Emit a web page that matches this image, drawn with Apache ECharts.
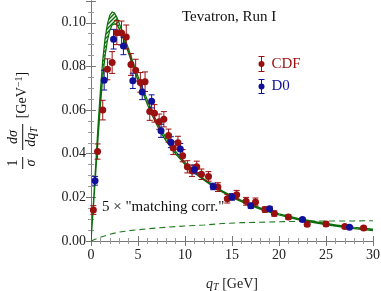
<!DOCTYPE html>
<html>
<head>
<meta charset="utf-8">
<script src="https://cdn.jsdelivr.net/npm/echarts@6/dist/echarts.min.js"></script>
<style>
html, body { margin: 0; padding: 0; background: #fff; }
#chart { width: 381px; height: 291px; }
</style>
</head>
<body>
<div id="chart"></div>
<script>
// CDF data: qT, value, error
var cdfX = [0.25, 0.7, 1.25, 1.75, 2.25, 2.75, 3.25, 3.75, 4.25, 4.75, 5.25, 5.75, 6.25, 6.75, 7.25, 7.75, 8.25, 8.75, 9.25, 9.75, 10.25, 10.75, 11.25, 11.75, 12.5, 13.5, 14.5, 15.5, 16.5, 17.5, 18.5, 19.5, 21, 23, 25, 27, 29];
var cdfY = [0.0142, 0.0410, 0.0600, 0.0787, 0.0818, 0.0955, 0.0953, 0.0935, 0.0809, 0.0783, 0.0727, 0.0730, 0.0593, 0.0585, 0.0547, 0.0558, 0.0483, 0.0426, 0.0450, 0.0391, 0.0340, 0.0322, 0.0340, 0.0306, 0.0296, 0.0247, 0.0194, 0.0212, 0.0182, 0.0179, 0.0144, 0.0126, 0.0110, 0.0077, 0.0078, 0.0066, 0.0060];
var cdfErr = [0.002, 0.0035, 0.0045, 0.0048, 0.005, 0.0055, 0.0055, 0.0055, 0.005, 0.005, 0.0045, 0.0045, 0.004, 0.004, 0.0035, 0.0035, 0.003, 0.003, 0.003, 0.0028, 0.0028, 0.0026, 0.0026, 0.0024, 0.0022, 0.002, 0.002, 0.002, 0.0018, 0.0018, 0.0012, 0.0012, 0.001, 0.001, 0.001, 0.0008, 0.0008];

// D0 data
var d0X = [0.43, 1.4, 2.4, 3.45, 4.45, 5.45, 6.45, 7.45, 8.5, 9.5, 11, 13, 15, 17, 19, 22.5, 27.5];
var d0Y = [0.0276, 0.0737, 0.0925, 0.0894, 0.0734, 0.0683, 0.0640, 0.0505, 0.0453, 0.0422, 0.0328, 0.0250, 0.0202, 0.0162, 0.0148, 0.0098, 0.0063];
var d0Err = [0.002, 0.0045, 0.0045, 0.004, 0.0035, 0.0035, 0.003, 0.003, 0.0025, 0.0025, 0.002, 0.0015, 0.0015, 0.0012, 0.001, 0.0008, 0.0006];

// theory band
var curveX = [0, 0.25, 0.5, 0.75, 1, 1.25, 1.5, 1.75, 2, 2.25, 2.5, 2.75, 3, 3.5, 4, 4.5, 5, 5.5, 6, 6.5, 7, 7.5, 8, 8.5, 9, 9.5, 10, 11, 12, 13, 14, 15, 16, 17, 18, 19, 20, 22, 24, 26, 28, 30];
var curveHigh = [0, 0.017, 0.035, 0.053, 0.069, 0.083, 0.093, 0.0995, 0.1035, 0.105, 0.1045, 0.1025, 0.0998, 0.094, 0.088, 0.0815, 0.0755, 0.070, 0.0645, 0.0594, 0.0548, 0.0508, 0.0472, 0.0441, 0.0411, 0.0385, 0.036, 0.0319, 0.0285, 0.0255, 0.0229, 0.0206, 0.0186, 0.0168, 0.0152, 0.0138, 0.0125, 0.0104, 0.0088, 0.0074, 0.0063, 0.0054];
var curveLow = [0, 0.015, 0.031, 0.047, 0.062, 0.075, 0.085, 0.092, 0.0965, 0.099, 0.0995, 0.0992, 0.0972, 0.092, 0.086, 0.0795, 0.0735, 0.068, 0.0625, 0.0576, 0.0532, 0.0492, 0.0458, 0.0429, 0.0399, 0.0375, 0.035, 0.0311, 0.0279, 0.0249, 0.0223, 0.020, 0.018, 0.0162, 0.0146, 0.0132, 0.0119, 0.0098, 0.0082, 0.0068, 0.0057, 0.0048];

// 5 x matching correction (dashed)
var corrX = [0, 1, 2, 3, 4, 6, 8, 10, 12, 14, 16, 18, 20, 22, 24, 26, 28, 30];
var corrY = [0, 0.0017, 0.0031, 0.0041, 0.0047, 0.0056, 0.0063, 0.0069, 0.0073, 0.0080, 0.0084, 0.0086, 0.0088, 0.0090, 0.0091, 0.0092, 0.0092, 0.0093];

var xTicks = [0, 5, 10, 15, 20, 25, 30];
var yTicks = [0, 0.02, 0.04, 0.06, 0.08, 0.10];

var red = '#9a1010';
var blue = '#10109a';
var green = '#0a6e0a';
var serif = 'Liberation Serif';

function zip(xs, ys, es) {
	return xs.map(function(x, i) {
		return es ? [x, ys[i], es[i]] : [x, ys[i]];
	});
}

// hatch pattern for the band
var hatch = document.createElement('canvas');
hatch.width = 4;
hatch.height = 4;
var hc = hatch.getContext('2d');
hc.fillStyle = '#e8f2e8';
hc.fillRect(0, 0, 4, 4);
hc.strokeStyle = green;
hc.lineWidth = 1.3;
hc.beginPath();
hc.moveTo(-1, 5); hc.lineTo(5, -1);
hc.moveTo(-1, 1); hc.lineTo(1, -1);
hc.moveTo(3, 5); hc.lineTo(5, 3);
hc.stroke();

function errorBarItem(color) {
	return function(params, api) {
		var x = api.value(0), y = api.value(1), e = api.value(2);
		var top = api.coord([x, y + e]);
		var bot = api.coord([x, y - e]);
		var w = 3;
		return {
			type: 'group',
			children: [
				{ type: 'line', shape: { x1: top[0], y1: top[1], x2: bot[0], y2: bot[1] }, style: { stroke: color, lineWidth: 1 } },
				{ type: 'line', shape: { x1: top[0] - w, y1: top[1], x2: top[0] + w, y2: top[1] }, style: { stroke: color, lineWidth: 1 } },
				{ type: 'line', shape: { x1: bot[0] - w, y1: bot[1], x2: bot[0] + w, y2: bot[1] }, style: { stroke: color, lineWidth: 1 } }
			]
		};
	};
}

function bandItem(params, api) {
	var pts = [];
	for (var i = 0; i < curveX.length; i++) pts.push(api.coord([curveX[i], curveHigh[i]]));
	for (var j = curveX.length - 1; j >= 0; j--) pts.push(api.coord([curveX[j], curveLow[j]]));
	return {
		type: 'polygon',
		shape: { points: pts },
		style: { fill: { image: hatch, repeat: 'repeat' }, stroke: green, lineWidth: 1.2 }
	};
}

var axisLine = { lineStyle: { color: '#777', width: 1 } };
var axisTick = { inside: true, length: 5, lineStyle: { color: '#777' } };
var minorTick = { show: true, length: 3, lineStyle: { color: '#999' } };
var labelFont = { fontFamily: serif, fontSize: 14, color: '#222' };

var myChart = echarts.init(document.getElementById('chart'));
var option = {
	animation: false,
	grid: { left: 91, right: 8, top: 1, bottom: 50, outerBoundsMode: 'none', containLabel: false },
	xAxis: [{
		type: 'value', min: 0, max: 30, interval: 5,
		axisLine: axisLine, axisTick: axisTick,
		minorTick: Object.assign({ splitNumber: 5 }, minorTick),
		splitLine: { show: false },
		axisLabel: Object.assign({ margin: 7, formatter: function(v) { return xTicks.indexOf(v) >= 0 ? String(v) : ''; } }, labelFont),
		name: '{i|q}{s|T} [GeV]',
		nameLocation: 'middle', nameGap: 35,
		nameTextStyle: {
			fontFamily: serif, fontSize: 14, color: '#222',
			rich: {
				i: { fontFamily: serif, fontStyle: 'italic', fontSize: 14, color: '#222' },
				s: { fontFamily: serif, fontStyle: 'italic', fontSize: 10, color: '#222', verticalAlign: 'bottom', padding: [6, 0, 0, 0] }
			}
		}
	}, {
		type: 'value', min: 0, max: 30, interval: 5, position: 'top',
		axisLine: axisLine, axisTick: axisTick,
		minorTick: Object.assign({ splitNumber: 5 }, minorTick),
		splitLine: { show: false }, axisLabel: { show: false }
	}],
	yAxis: [{
		type: 'value', min: 0, max: 0.11, interval: 0.02,
		axisLine: axisLine, axisTick: axisTick,
		minorTick: Object.assign({ splitNumber: 4 }, minorTick),
		splitLine: { show: false },
		axisLabel: Object.assign({ margin: 5, formatter: function(v) {
			for (var i = 0; i < yTicks.length; i++) if (Math.abs(yTicks[i] - v) < 1e-9) return v.toFixed(2);
			return '';
		} }, labelFont)
	}, {
		type: 'value', min: 0, max: 0.11, interval: 0.02, position: 'right',
		axisLine: axisLine, axisTick: axisTick,
		minorTick: Object.assign({ splitNumber: 4 }, minorTick),
		splitLine: { show: false }, axisLabel: { show: false }
	}],
	series: [{
		type: 'line', name: 'corr', data: zip(corrX, corrY), showSymbol: false, z: 1,
		lineStyle: { color: '#1e7a1e', width: 1.1, type: [6, 4] }
	}, {
		type: 'custom', name: 'band', data: [[0, 0]], renderItem: bandItem, clip: true, z: 2
	}, {
		type: 'custom', name: 'CDF err', data: zip(cdfX, cdfY, cdfErr), renderItem: errorBarItem(red), z: 3
	}, {
		type: 'custom', name: 'D0 err', data: zip(d0X, d0Y, d0Err), renderItem: errorBarItem(blue), z: 3
	}, {
		type: 'scatter', name: 'CDF', data: zip(cdfX, cdfY), symbolSize: 7, z: 4,
		itemStyle: { color: red, opacity: 1 }
	}, {
		type: 'scatter', name: 'D0', data: zip(d0X, d0Y), symbolSize: 7, z: 4,
		itemStyle: { color: blue, opacity: 1 }
	}],
	graphic: [{
		type: 'text', left: 182, top: 10,
		style: { text: 'Tevatron, Run I', fontFamily: serif, fontSize: 15, fill: '#111' }
	}, {
		type: 'text', left: 102, top: 200,
		style: { text: '5 \u00d7 "matching corr."', fontFamily: serif, fontSize: 15, fill: '#111' }
	}, {
		type: 'group', left: 256, top: 54,
		children: [
			{ type: 'line', shape: { x1: 4, y1: 0, x2: 4, y2: 15 }, style: { stroke: red, lineWidth: 1 } },
			{ type: 'line', shape: { x1: 1, y1: 0, x2: 7, y2: 0 }, style: { stroke: red, lineWidth: 1 } },
			{ type: 'line', shape: { x1: 1, y1: 15, x2: 7, y2: 15 }, style: { stroke: red, lineWidth: 1 } },
			{ type: 'circle', shape: { cx: 4, cy: 7.5, r: 3 }, style: { fill: red } },
			{ type: 'text', x: 14, y: 7.5, style: { text: 'CDF', fontFamily: serif, fontSize: 15, fill: red, verticalAlign: 'middle' } },
			{ type: 'line', shape: { x1: 4, y1: 23, x2: 4, y2: 37 }, style: { stroke: blue, lineWidth: 1 } },
			{ type: 'line', shape: { x1: 1, y1: 23, x2: 7, y2: 23 }, style: { stroke: blue, lineWidth: 1 } },
			{ type: 'line', shape: { x1: 1, y1: 37, x2: 7, y2: 37 }, style: { stroke: blue, lineWidth: 1 } },
			{ type: 'circle', shape: { cx: 4, cy: 30, r: 3 }, style: { fill: blue } },
			{ type: 'text', x: 14, y: 30, style: { text: 'D0', fontFamily: serif, fontSize: 15, fill: blue, verticalAlign: 'middle' } }
		]
	}, {
		type: 'group', x: 22.7, y: 121, rotation: Math.PI / 2,
		children: [
			{ type: 'text', x: -42, y: -9, style: { text: '1', fontFamily: serif, fontSize: 14, fill: '#111', align: 'center', verticalAlign: 'middle' } },
			{ type: 'line', shape: { x1: -48, y1: 0, x2: -36, y2: 0 }, style: { stroke: '#111', lineWidth: 1 } },
			{ type: 'text', x: -42, y: 9, style: { text: '\u03c3', fontFamily: serif, fontStyle: 'italic', fontSize: 14, fill: '#111', align: 'center', verticalAlign: 'middle' } },
			{ type: 'text', x: -16, y: -9, style: { text: 'd\u03c3', fontFamily: serif, fontStyle: 'italic', fontSize: 14, fill: '#111', align: 'center', verticalAlign: 'middle' } },
			{ type: 'line', shape: { x1: -29, y1: 0, x2: -3, y2: 0 }, style: { stroke: '#111', lineWidth: 1 } },
			{ type: 'text', x: -16, y: 9, style: {
				text: '{i|dq}{s|T}', fontFamily: serif, fontSize: 14, fill: '#111', align: 'center', verticalAlign: 'middle',
				rich: {
					i: { fontFamily: serif, fontStyle: 'italic', fontSize: 14, fill: '#111' },
					s: { fontFamily: serif, fontStyle: 'italic', fontSize: 10, fill: '#111', padding: [6, 0, 0, 0] }
				}
			} },
			{ type: 'text', x: 26, y: 0, style: {
				text: '[GeV{u|\u22121}]', fontFamily: serif, fontSize: 14, fill: '#111', align: 'center', verticalAlign: 'middle',
				rich: {
					u: { fontFamily: serif, fontSize: 10, fill: '#111', padding: [0, 0, 6, 0] }
				}
			} }
		]
	}]
};
myChart.setOption(option);
</script>
</body>
</html>
